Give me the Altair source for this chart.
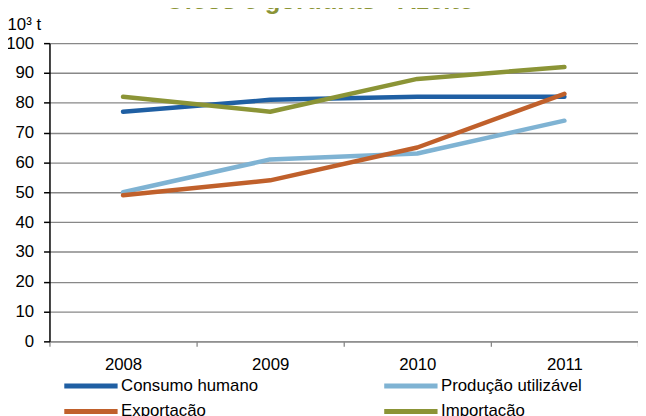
import altair as alt
import pandas as pd

years = ["2008", "2009", "2010", "2011"]
series = ["Consumo humano", "Produção utilizável", "Exportação", "Importação"]
consumo = [77, 81, 82, 82]
producao = [50, 61, 63, 74]
exportacao = [49, 54, 65, 83]
importacao = [82, 77, 88, 92]
colors = ["#1F5FA3", "#7FB3D3", "#C0602B", "#8B9436"]
title_text = "Óleos e gorduras - Azeite"
y_title = "10³ t"
y_ticks = [0, 10, 20, 30, 40, 50, 60, 70, 80, 90, 100]

rows = []
for name, vals in zip(series, [consumo, producao, exportacao, importacao]):
    for yr, v in zip(years, vals):
        rows.append({"ano": yr, "serie": name, "valor": v})
df = pd.DataFrame(rows)

FONT = "Liberation Sans"

lines = alt.Chart(df).mark_line(strokeWidth=4.5, strokeCap="round", strokeJoin="round").encode(
    x=alt.X(
        "ano:O",
        bandPosition=0.5,
        scale=alt.Scale(type="band", paddingInner=0, paddingOuter=0),
        axis=alt.Axis(
            title=None, labelAngle=0, tickBand="extent", grid=False,
            domainColor="#888888", domainWidth=1.3, tickColor="#888888",
            tickWidth=1.3, tickSize=5, labelPadding=10,
        ),
    ),
    y=alt.Y(
        "valor:Q",
        scale=alt.Scale(domain=[0, 100], nice=False),
        axis=alt.Axis(
            values=y_ticks, title=y_title, titleAngle=0, titleX=-43, titleY=-13.7,
            titleAlign="left", titleBaseline="alphabetic", titleFontWeight="normal",
            titleFontSize=17, titleFont=FONT, titleColor="black",
            domainColor="black", domainWidth=1.5, tickColor="black", tickWidth=1.5,
            tickSize=6, labelPadding=10, grid=True, gridColor="#888888", gridWidth=1.3,
        ),
    ),
    color=alt.Color(
        "serie:N",
        scale=alt.Scale(domain=series, range=colors),
        legend=alt.Legend(
            title=None, orient="none", legendX=12.5, legendY=335.5, columns=2,
            direction="horizontal",
            columnPadding=117, rowPadding=4, symbolType="M-1,0H5", symbolSize=324,
            symbolStrokeWidth=5, labelFontSize=17, labelFont=FONT, labelColor="black",
            labelOffset=37, padding=0, labelLimit=0,
        ),
    ),
)

title_df = pd.DataFrame({"t": [title_text]})
title = alt.Chart(title_df).mark_text(
    fontSize=26, fontWeight="bold", color="#8B9436", font=FONT,
    baseline="alphabetic", align="center",
).encode(text="t:N", x=alt.value(273), y=alt.value(-35))

chart = alt.layer(lines, title).properties(
    width=596, height=302,
    autosize=alt.AutoSizeParams(type="none"),
    padding={"left": 42, "top": 33, "right": 0, "bottom": 73},
    background="white",
).configure_view(stroke=None).configure_axis(
    labelFont=FONT, labelFontSize=17, labelColor="black"
)

chart.save("out.html", embed_options={"renderer": "svg", "actions": False})
